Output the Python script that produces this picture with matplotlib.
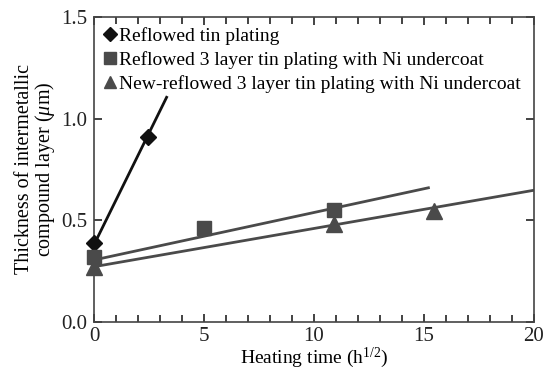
import matplotlib
matplotlib.use('Agg')
import matplotlib.pyplot as plt
import numpy as np
from matplotlib.ticker import MultipleLocator

plt.rcParams['font.family'] = 'Liberation Serif'
plt.rcParams['mathtext.fontset'] = 'custom'
plt.rcParams['mathtext.rm'] = 'Liberation Serif'
plt.rcParams['mathtext.it'] = 'Liberation Serif:italic'

# measured points
tin_x = [0, 2.45]
tin_y = [0.39, 0.91]
ni_x = [0, 5, 10.9]
ni_y = [0.32, 0.46, 0.55]
new_x = [0, 10.9, 15.45]
new_y = [0.27, 0.48, 0.545]

# fitted lines (end points)
tin_fit_x = [0, 3.3]
tin_fit_y = [0.38, 1.105]
ni_fit_x = [0, 15.2]
ni_fit_y = [0.305, 0.66]
new_fit_x = [0, 20]
new_fit_y = [0.272, 0.648]


def main():
    fig = plt.figure(figsize=(5.51, 3.71), dpi=100)
    ax = fig.add_axes([94 / 551, 49 / 371, 440 / 551, 305 / 371])

    black = '#111111'
    gray = '#4a4a4a'
    ax.plot(tin_fit_x, tin_fit_y, color=black, lw=2)
    ax.plot(ni_fit_x, ni_fit_y, color=gray, lw=2)
    ax.plot(new_fit_x, new_fit_y, color=gray, lw=2)

    ax.plot(tin_x, tin_y, 'D', color=black, ms=8.5, ls='none', label='Reflowed tin plating', clip_on=False, zorder=5)
    ax.plot(ni_x, ni_y, 's', color=gray, ms=10.5, ls='none',
            label='Reflowed 3 layer tin plating with Ni undercoat', clip_on=False, zorder=5)
    ax.plot(new_x, new_y, '^', color=gray, ms=11, ls='none',
            label='New-reflowed 3 layer tin plating with Ni undercoat', clip_on=False, zorder=5)

    ax.set_xlim(0, 20)
    ax.set_ylim(0, 1.5)
    ax.xaxis.set_major_locator(MultipleLocator(5))
    ax.xaxis.set_minor_locator(MultipleLocator(1))
    ax.yaxis.set_major_locator(MultipleLocator(0.5))
    ax.yaxis.set_major_formatter(matplotlib.ticker.FormatStrFormatter('%.1f'))
    ax.tick_params(which='both', direction='in', top=True, right=True, labelsize=15, colors='#222222')
    ax.tick_params(axis='x', pad=3.5)
    ax.tick_params(axis='y', pad=5)
    ax.tick_params(which='major', length=6, width=1.2)
    ax.tick_params(which='minor', length=5, width=1.2)
    for s in ax.spines.values():
        s.set_color('#444444')
        s.set_linewidth(1.2)

    ax.set_xlabel('Heating time (h$^{1/2}$)', fontsize=14, labelpad=0)
    ax.set_ylabel('Thickness of intermetallic\ncompound layer ($\\mathit{\\mu}$m)', fontsize=14.5,
                  linespacing=0.95, labelpad=3)

    ax.legend(loc='upper left', bbox_to_anchor=(0.0, 0.985), frameon=False, fontsize=14,
              handletextpad=0.0, handlelength=1.0, borderaxespad=0.0, borderpad=0.3,
              labelspacing=0.3, markerscale=0.8)

    fig.savefig('out.png', dpi=100)


if __name__ == '__main__':
    main()
